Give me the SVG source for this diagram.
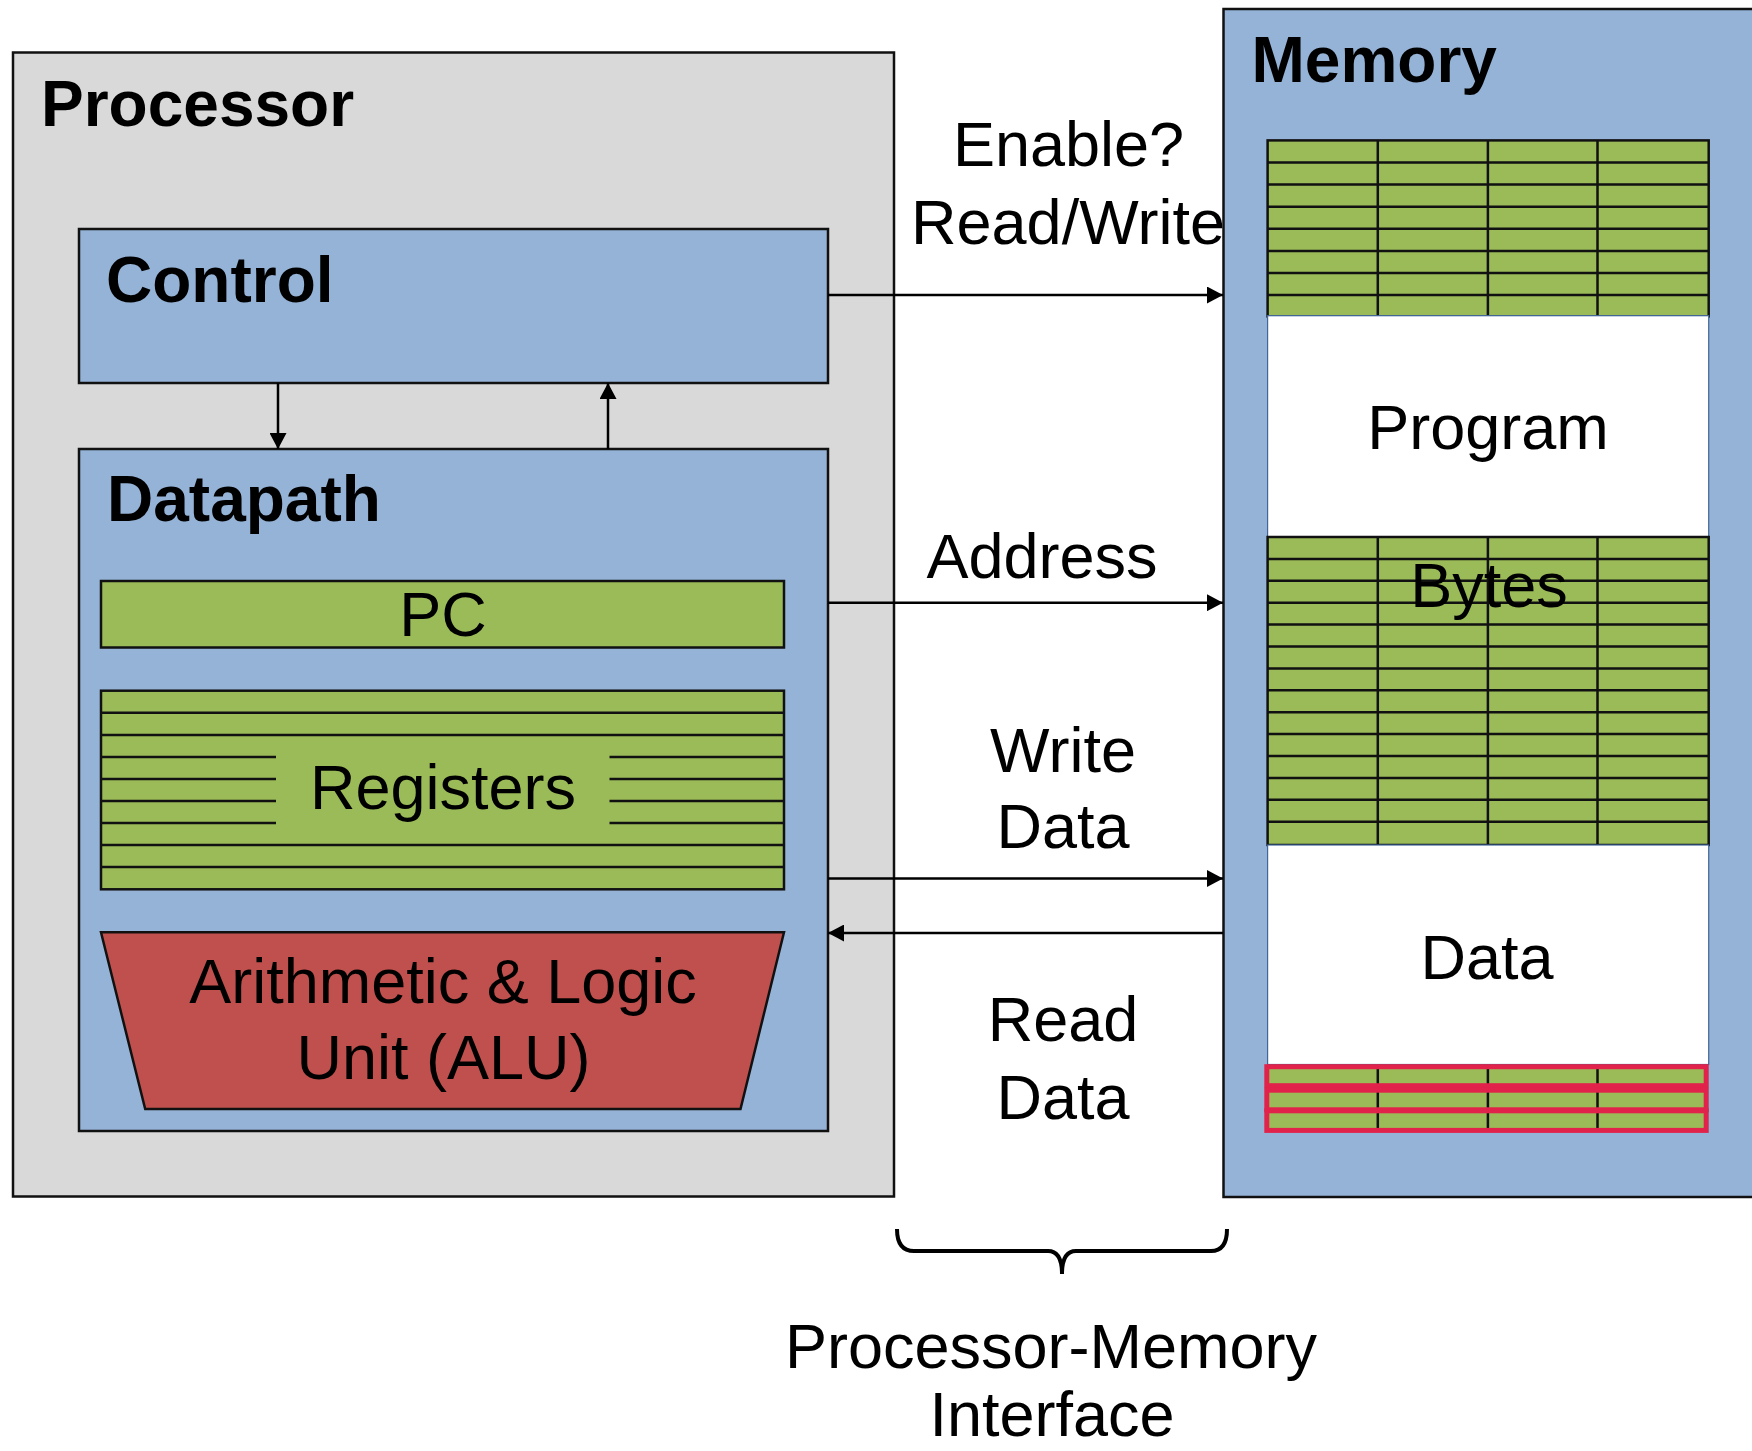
<svg xmlns="http://www.w3.org/2000/svg" width="1752" height="1451" viewBox="0 0 1752 1451">
<style>
.box{stroke:#111;stroke-width:2.5}
.blue{fill:#95b3d7}
.green{fill:#9bbb59;stroke:#111;stroke-width:2.5}
.grid{stroke:#111;stroke-width:2.5;fill:none}
.white{fill:#fff;stroke:#41669a;stroke-width:1.2}
.title{font-family:"Liberation Sans",Arial,sans-serif;font-weight:bold;font-size:64px;fill:#000}
.lbl{font-family:"Liberation Sans",Arial,sans-serif;font-size:63px;fill:#000;text-anchor:middle}
.conn{stroke:#000;stroke-width:2.5;fill:none}
.redrow{fill:none;stroke:#e1224a;stroke-width:5}
</style>
<defs>
<marker id="ah" markerUnits="userSpaceOnUse" markerWidth="16" markerHeight="17" refX="16" refY="8.5" orient="auto">
<path d="M0,0 L16,8.5 L0,17 z" fill="#000"/>
</marker>
</defs>
<rect width="1752" height="1451" fill="#fff"/>

<g id="processor">
<rect class="box" x="13" y="52.5" width="881" height="1144" fill="#d9d9d9"/>
<text class="title" x="41" y="126">Processor</text>
</g>

<g id="control">
<rect class="box blue" x="79" y="229" width="749" height="154"/>
<text class="title" x="106" y="302">Control</text>
</g>

<g id="datapath">
<rect class="box blue" x="79" y="449" width="749" height="682"/>
<text class="title" x="107" y="521">Datapath</text>
</g>

<g id="pc">
<rect class="green" x="101" y="581" width="683" height="66.5"/>
<text class="lbl" x="443" y="636">PC</text>
</g>

<g id="registers">
<rect class="green" x="101" y="690.7" width="683" height="198.6"/>
<path class="grid" d="M101,712.8H784 M101,734.9H784 M101,845H784 M101,867.1H784 M101,757H276 M609.5,757H784 M101,779H276 M609.5,779H784 M101,801H276 M609.5,801H784 M101,823H276 M609.5,823H784"/>
<text class="lbl" x="443" y="809">Registers</text>
</g>

<g id="alu">
<path class="box" fill="#c0504d" d="M101,932.3 L784,932.3 L740.5,1109 L145.2,1109 Z"/>
<text class="lbl" x="443" y="1003">Arithmetic &amp; Logic</text>
<text class="lbl" x="443.5" y="1079">Unit (ALU)</text>
</g>

<g id="memory">
<rect class="box blue" x="1223.5" y="9" width="560" height="1188"/>
<text class="title" x="1251.5" y="81.5">Memory</text>
</g>

<g id="memory-top-bytes">
<rect class="green" x="1267.6" y="140.4" width="441.1" height="176"/>
<path class="grid" d="M1267.6,162.5H1708.7 M1267.6,184.6H1708.7 M1267.6,206.7H1708.7 M1267.6,228.8H1708.7 M1267.6,250.9H1708.7 M1267.6,273H1708.7 M1267.6,295.1H1708.7 M1377.8,140.4V316 M1487.9,140.4V316 M1597.5,140.4V316"/>
</g>

<g id="program">
<rect class="white" x="1267.6" y="315.7" width="441.1" height="221"/>
<text class="lbl" x="1488" y="449">Program</text>
</g>

<g id="bytes">
<rect class="green" x="1267.6" y="537" width="441.1" height="308"/>
<path class="grid" d="M1267.6,558.9H1708.7 M1267.6,580.8H1708.7 M1267.6,602.7H1708.7 M1267.6,624.6H1708.7 M1267.6,646.5H1708.7 M1267.6,668.4H1708.7 M1267.6,690.3H1708.7 M1267.6,712.2H1708.7 M1267.6,734.1H1708.7 M1267.6,756H1708.7 M1267.6,777.9H1708.7 M1267.6,799.8H1708.7 M1267.6,821.7H1708.7 M1377.8,537V845 M1487.9,537V845 M1597.5,537V845"/>
<text class="lbl" x="1489" y="607">Bytes</text>
</g>

<g id="data-region">
<rect class="white" x="1267.6" y="845" width="441.1" height="219.5"/>
<text class="lbl" x="1487" y="979">Data</text>
</g>

<g id="highlighted-rows">
<rect x="1266.8" y="1066.7" width="439.4" height="64" fill="#9bbb59"/>
<path class="grid" d="M1377.8,1066.7V1130.5 M1487.9,1066.7V1130.5 M1597.5,1066.7V1130.5"/>
<rect class="redrow" x="1266.8" y="1066.7" width="439.4" height="19"/>
<rect class="redrow" x="1266.8" y="1090.2" width="439.4" height="19.6"/>
<rect class="redrow" x="1266.8" y="1110.8" width="439.4" height="19.6"/>
</g>

<g id="connectors">
<path class="conn" marker-end="url(#ah)" d="M828,295 H1223"/>
<path class="conn" marker-end="url(#ah)" d="M278,383 V449"/>
<path class="conn" marker-end="url(#ah)" d="M608,449 V383"/>
<path class="conn" marker-end="url(#ah)" d="M828,602.7 H1223"/>
<path class="conn" marker-end="url(#ah)" d="M828,878.5 H1223"/>
<path class="conn" marker-end="url(#ah)" d="M1223,933 H828"/>
</g>

<g id="interface-labels">
<text class="lbl" x="1068.5" y="166">Enable?</text>
<text class="lbl" x="1068" y="244">Read/Write</text>
<text class="lbl" x="1042" y="578">Address</text>
<text class="lbl" x="1063" y="772">Write</text>
<text class="lbl" x="1063" y="848">Data</text>
<text class="lbl" x="1063" y="1041">Read</text>
<text class="lbl" x="1063" y="1118.5">Data</text>
</g>

<g id="interface-brace">
<path d="M897,1229 Q897,1251 914,1251 L1048,1251 Q1062,1251 1062,1274 Q1062,1251 1076,1251 L1211,1251 Q1227,1251 1227,1229" fill="none" stroke="#000" stroke-width="4"/>
<text class="lbl" x="1051" y="1368">Processor-Memory</text>
<text class="lbl" x="1052" y="1436">Interface</text>
</g>
</svg>
